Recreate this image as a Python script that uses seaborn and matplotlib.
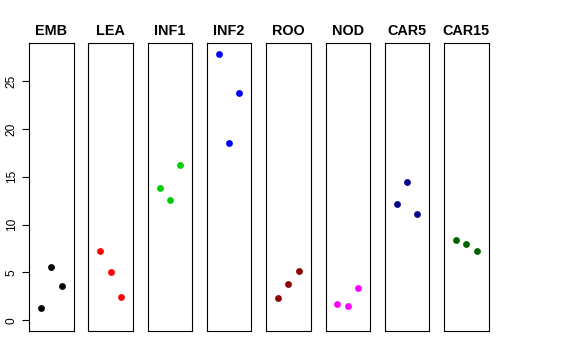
import matplotlib
matplotlib.use("Agg")
import matplotlib.pyplot as plt
import seaborn as sns
import pandas as pd
import numpy as np

sns.set_style("white")
plt.rcParams['font.family'] = ['Liberation Sans', 'DejaVu Sans']
plt.rcParams['text.color'] = 'black'
plt.rcParams['ytick.color'] = 'black'
plt.rcParams['axes.labelcolor'] = 'black'

tissues = ["EMB", "LEA", "INF1", "INF2", "ROO", "NOD", "CAR5", "CAR15"]
colors = ["#000000", "#FF0000", "#00CD00", "#0000FF", "#8B0000", "#FF00FF", "#00008B", "#006400"]
replicate = [1, 2, 3]
values = {
    "EMB":   [1.29, 5.54, 3.62],
    "LEA":   [7.24, 5.05, 2.44],
    "INF1":  [13.79, 12.57, 16.27],
    "INF2":  [27.83, 18.57, 23.72],
    "ROO":   [2.37, 3.83, 5.19],
    "NOD":   [1.70, 1.53, 3.38],
    "CAR5":  [12.19, 14.42, 11.15],
    "CAR15": [8.43, 8.01, 7.21],
}
yticks = [0, 5, 10, 15, 20, 25]

fig = plt.figure(figsize=(5.76, 3.6), dpi=100)
W, H = 576.0, 360.0
left0, pw, step = 29.0, 44.5, 59.3
top, bottom = 43.3, 331.0

ymax = max(max(v) for v in values.values())
ylo, yhi = 0 - 0.04 * ymax, ymax + 0.04 * ymax
xlo, xhi = 0 - 0.16, 4 + 0.16

for i, (t, c) in enumerate(zip(tissues, colors)):
    ax = fig.add_axes([(left0 + i * step) / W, 1 - bottom / H, pw / W, (bottom - top) / H])
    df = pd.DataFrame({"x": replicate, "y": values[t]})
    sns.scatterplot(data=df, x="x", y="y", ax=ax, color=c, s=24, linewidth=0, legend=False)
    ax.set_xlim(xlo, xhi)
    ax.set_ylim(ylo, yhi)
    ax.set_xticks([])
    ax.set_xlabel("")
    ax.set_ylabel("")
    for sp in ax.spines.values():
        sp.set_visible(True)
        sp.set_color("black")
        sp.set_linewidth(0.8)
    ax.set_title(t, fontsize=10.4, fontweight="bold", pad=6, color="black")
    if i == 0:
        ax.set_yticks(yticks)
        ax.set_yticklabels([str(v) for v in yticks], rotation=90, va="center", fontsize=8.6, color="black")
        ax.tick_params(axis="y", left=True, length=5, width=0.8, pad=3, color="black", labelcolor="black")
    else:
        ax.set_yticks([])

fig.savefig("out.png", dpi=100)
